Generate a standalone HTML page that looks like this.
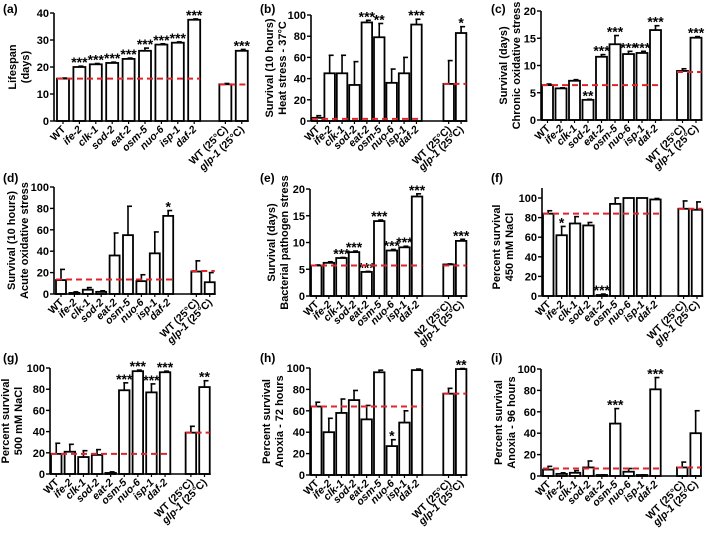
<!DOCTYPE html>
<html><head><meta charset="utf-8">
<style>
html,body{margin:0;padding:0;background:#fff;}
svg{display:block;font-family:"Liberation Sans",Arial,sans-serif;}
</style></head>
<body>
<svg id="fig" width="709" height="535" viewBox="0 0 709 535" xmlns="http://www.w3.org/2000/svg"></svg>
<script>
// Data (top-level arrays)
const categoriesMain = ["WT","ife-2","clk-1","sod-2","eat-2","osm-5","nuo-6","isp-1","daf-2"];
const categoriesExtra = ["WT (25°C)","glp-1 (25°C)"];
const categoriesExtraE = ["N2 (25°C)","glp-1 (25°C)"];

const valsA = [15.7,20,21,21.5,23,26,28.3,29,37.5,13.6,26];
const errsA = [0.2,0.3,0.3,0.3,0.3,1,0.3,0.3,0.3,0.3,0.5];
const starsA = ["","***","***","***","***","***","***","***","***","","***"];
const refsA = [15.7,13.5];

const valsB = [3,45,45,34,93,79,36,45,91,35,83];
const errsB = [2,17,17,22,2,13,13,15,5,22,6];
const starsB = ["","","","","***","**","","","***","","*"];
const refsB = [2,35];

const valsC = [6.4,5.8,7.2,3.7,11.6,13.9,12.1,12.3,16.5,9,15.1];
const errsC = [0.2,0.1,0.2,0.1,0.4,1.6,0.5,0.3,0.8,0.4,0.2];
const starsC = ["","","","**","***","***","***","***","***","","***"];
const refsC = [6.4,8.8];

const valsD = [13,1,4,2,36,55,12,38,73,21,11];
const errsD = [10,1,2,1,21,27,6,20,5,10,9];
const starsD = ["","","","","","","","","*","",""];
const refsD = [13.5,21.5];

const valsE = [5.7,6.2,7.1,8.2,4.5,14,8.5,9.1,18.6,5.9,10.3];
const errsE = [0.1,0.2,0.1,0.2,0.1,0.2,0.2,0.2,0.5,0.1,0.3];
const starsE = ["","","***","***","***","***","***","***","***","","***"];
const refsE = [5.7,5.7];

const valsF = [84,62,74,72,1,94,100,100,98.5,89,88];
const errsF = [3,9,7,3,1,6,0,0,1,8,8];
const starsF = ["","*","","","***","","","","","",""];
const refsF = [84,89];

const valsG = [19,21,16,18,1,79,97,77,96,39,82];
const errsG = [10,7,6,5,1,7,1,8,1,6,6];
const starsG = ["","","","","","***","***","***","***","","**"];
const refsG = [19,39];

const valsH = [64,40,58,70,52,96,27,49,98,76,99];
const errsH = [4,13,13,9,13,2,6,11,1,5,0.5];
const starsH = ["","","","","","","*","","","","**"];
const refsH = [64,76];

const valsI = [6,2,3,8,0.5,49,4,0.5,81,8,40];
const errsI = [3,1,2,6,0.5,14,3,0.5,11,5,21];
const starsI = ["","","","","","***","","","***","",""];
const refsI = [7,8];

const ticks20 = [0,5,10,15,20];
const ticks40 = [0,10,20,30,40];
const ticks100 = [0,20,40,60,80,100];

const svg = document.getElementById('fig');
const NS = "http://www.w3.org/2000/svg";
function mk(tag, attrs, parent){
  const e = document.createElementNS(NS, tag);
  for (const k in attrs) e.setAttribute(k, attrs[k]);
  (parent||svg).appendChild(e);
  return e;
}
function labelText(g, x, y, name){
  const t = mk('text', {x:x, y:y, 'text-anchor':'end', 'font-size':'10.5', 'font-weight':'bold',
    transform:'rotate(-45 '+x+' '+y+')'}, g);
  const m = name.match(/^(\S+)( \(25°C\))?$/);
  const base = m[1], suf = m[2]||"";
  const ital = !(base==="WT"||base==="N2");
  const s1 = mk('tspan', {'font-style': ital?'italic':'normal'}, t);
  s1.textContent = base;
  if (suf){ const s2 = mk('tspan', {}, t); s2.textContent = suf; }
  return t;
}

function panel(p){
  const g = mk('g', {});
  
  
  const yS = v => p.y0 - (v/p.max)*(p.y0-p.yTop);
  const slots = [0,1,2,3,4,5,6,7,8,p.gap,p.gap+1];
  const xS = i => p.bx + slots[i]*p.sp;
  const cats = categoriesMain.concat(p.extra);
  const pl = mk('text', {x:p.lx, y:p.ly, 'font-size':'12', 'font-weight':'bold'}, g);
  pl.textContent = '('+p.id+')';
  
  
  const tg = mk('g', {}, g);
  
  
  const midY = (p.y0+p.yTop)/2;
  p.title.forEach((line, k) => {
    const tx = p.tx + k*13;
    const t = mk('text', {x:tx, y:midY, 'text-anchor':'middle', 'font-size':'11', 'font-weight':'bold',
      transform:'rotate(-90 '+tx+' '+midY+')'}, tg);
    t.textContent = line;
  });
  const lastX = xS(10) + p.bw + 1;
  p.vals.forEach((v, i) => {
    const x = xS(i), y = yS(v), e = p.errs[i];
    const bg = mk('g', {}, g);
    
    
    const cx = x + p.bw/2;
    const ey = yS(v + e);
    if (e > 0){
      mk('line', {x1:cx, x2:cx, y1:y, y2:ey, stroke:'#000', 'stroke-width':'1.6'}, bg);
      mk('line', {x1:cx-1, x2:cx+4, y1:ey, y2:ey, stroke:'#000', 'stroke-width':'1.6'}, bg);
    }
    mk('rect', {x:x, y:Math.min(y, p.y0-1), width:p.bw, height:Math.max(1, p.y0-y), fill:'#fff', stroke:'#000', 'stroke-width':'1.8'}, bg);
    if (p.stars[i]){
      const st = mk('text', {x:cx, y:ey+1, 'text-anchor':'middle', 'font-size':'14', 'font-weight':'bold'}, bg);
      st.textContent = p.stars[i];
      
      
    }
    mk('line', {x1:cx, x2:cx, y1:p.y0, y2:p.y0+3, stroke:'#000', 'stroke-width':'1.2'}, g);
    const lt = labelText(g, cx+3, p.y0+9, cats[i]);
    
    
  });
  const r1 = mk('line', {x1:xS(0), x2:xS(8)+p.bw, y1:yS(p.refs[0]), y2:yS(p.refs[0]), stroke:'#e0242b', 'stroke-width':'2', 'stroke-dasharray':'6,4'}, g);
  
  
  const r2 = mk('line', {x1:xS(9), x2:xS(10)+p.bw, y1:yS(p.refs[1]), y2:yS(p.refs[1]), stroke:'#e0242b', 'stroke-width':'2', 'stroke-dasharray':'6,4'}, g);
  
  
  const topAx = p.axTop !== undefined ? p.axTop : p.yTop;
  const ya = mk('line', {x1:p.ax, x2:p.ax, y1:topAx, y2:p.y0, stroke:'#000', 'stroke-width':'1.6'}, g);
  
  
  const xa = mk('line', {x1:p.ax, x2:lastX, y1:p.y0, y2:p.y0, stroke:'#000', 'stroke-width':'1.6'}, g);
  
  
  p.ticks.forEach(tv => {
    const ty = yS(tv);
    mk('line', {x1:p.ax-4, x2:p.ax, y1:ty, y2:ty, stroke:'#000', 'stroke-width':'1.4'}, g);
    const t = mk('text', {x:p.ax-5, y:ty+4, 'text-anchor':'end', 'font-size':'11', 'font-weight':'bold'}, g);
    t.textContent = tv;
    
    
  });
}

panel({id:'a', vals:valsA, errs:errsA, stars:starsA, refs:refsA, ticks:ticks40, max:40, extra:categoriesExtra,
  ax:54, y0:121, yTop:13, bx:57, sp:16.4, gap:9.9, bw:12, lx:3, ly:13, tx:16, title:["Lifespan","(days)"]});
panel({id:'b', vals:valsB, errs:errsB, stars:starsB, refs:refsB, ticks:ticks100, max:100, extra:categoriesExtra,
  ax:311, y0:121, yTop:15, bx:312, sp:12.4, gap:10.6, bw:10.5, lx:260, ly:13, tx:273, title:["Survival (10 hours)","Heat stress - 37°C"]});
panel({id:'c', vals:valsC, errs:errsC, stars:starsC, refs:refsC, ticks:ticks20, max:20, extra:categoriesExtra,
  ax:541, y0:120, yTop:11, bx:542, sp:13.5, gap:10, bw:11, lx:491, ly:13, tx:507, title:["Survival (days)","Chronic oxidative stress"]});
panel({id:'d', vals:valsD, errs:errsD, stars:starsD, refs:refsD, ticks:ticks100, max:100, extra:categoriesExtra,
  ax:54, y0:294, yTop:187, bx:56, sp:13.4, gap:10.1, bw:10, lx:3, ly:182, tx:15, title:["Survival (10 hours)","Acute oxidative stress"]});
panel({id:'e', vals:valsE, errs:errsE, stars:starsE, refs:refsE, ticks:ticks20, max:20, extra:categoriesExtraE,
  ax:310, y0:296, yTop:189, bx:311, sp:12.6, gap:10.5, bw:10.5, lx:260, ly:182, tx:275, title:["Survival (days)","Bacterial pathogen stress"]});
panel({id:'f', vals:valsF, errs:errsF, stars:starsF, refs:refsF, ticks:ticks100, max:100, extra:categoriesExtra,
  ax:542, y0:296, yTop:198, axTop:188, bx:543, sp:13.4, gap:10.1, bw:10.5, lx:491, ly:182, tx:500, title:["Percent survival","450 mM NaCl"]});
panel({id:'g', vals:valsG, errs:errsG, stars:starsG, refs:refsG, ticks:ticks100, max:100, extra:categoriesExtra,
  ax:50, y0:474, yTop:368, bx:51, sp:13.6, gap:9.9, bw:10.5, lx:3, ly:362, tx:9, title:["Percent survival","500 mM NaCl"]});
panel({id:'h', vals:valsH, errs:errsH, stars:starsH, refs:refsH, ticks:ticks100, max:100, extra:categoriesExtra,
  ax:310, y0:475, yTop:368, bx:311, sp:12.6, gap:10.5, bw:10.5, lx:260, ly:362, tx:270, title:["Percent survival","Anoxia - 72 hours"]});
panel({id:'i', vals:valsI, errs:errsI, stars:starsI, refs:refsI, ticks:ticks100, max:100, extra:categoriesExtra,
  ax:541, y0:476, yTop:369, bx:543, sp:13.4, gap:10, bw:10.5, lx:491, ly:362, tx:502, title:["Percent survival","Anoxia - 96 hours"]});
</script>
</body></html>
